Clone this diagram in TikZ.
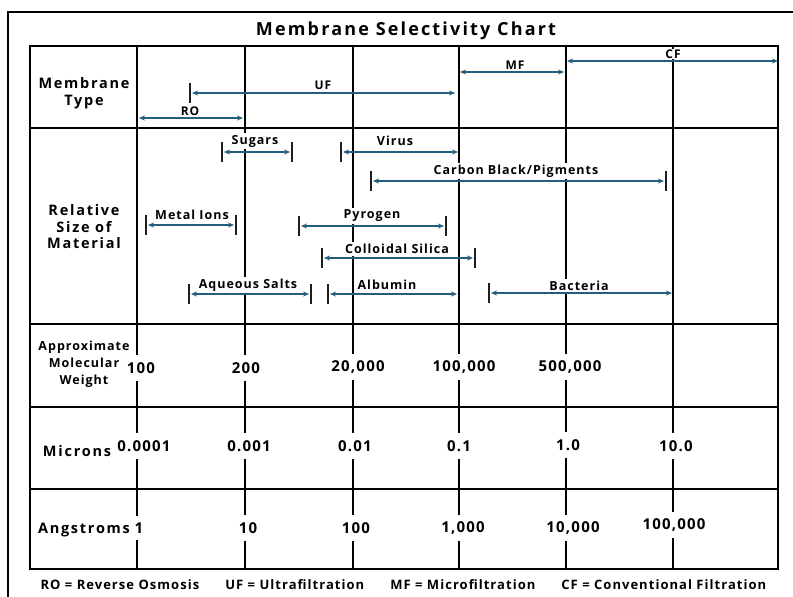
\documentclass[tikz,border=0pt]{standalone}
\usepackage{fontspec}
\setmainfont{Open Sans}
\newfontfamily\chartsp[LetterSpace=8]{Open Sans}
\newfontfamily\chartspw[LetterSpace=12]{Open Sans}
\usetikzlibrary{arrows.meta}
\definecolor{arrowc}{RGB}{35,95,125}
\definecolor{tickc}{RGB}{30,30,30}
\tikzset{
  grid/.style={line width=2.6pt, black},
  rowlab/.style={font=\chartspw\bfseries\fontsize{14.5}{16.5}\selectfont, align=center, inner sep=1pt},
  rng/.style={draw=arrowc, line width=1.6pt, {Stealth[length=6pt,width=5pt]}-{Stealth[length=6pt,width=5pt]}},
  tk/.style={draw=tickc, line width=1.6pt},
  matlab/.style={font=\chartsp\bfseries\fontsize{12.5}{14}\selectfont, fill=white, inner xsep=1pt, inner ysep=2pt},
  numlab/.style={font=\chartsp\bfseries\fontsize{15}{17}\selectfont, fill=white, inner xsep=1.5pt, inner ysep=7pt},
  memlab/.style={font=\chartsp\bfseries\fontsize{12}{13}\selectfont, fill=white, inner sep=1pt},
}
\newcommand\tickrange[3]{% x1, x2, y
  \draw[tk] (#1,#3-10) -- (#1,#3+10);
  \draw[tk] (#2,#3-10) -- (#2,#3+10);
  \draw[rng] (#1+2,#3) -- (#2-2,#3);
}
\begin{document}
\begin{tikzpicture}[x=1pt,y=-1pt]
\useasboundingbox (0,0) rectangle (793,597);
\fill[white] (0,0) rectangle (793,597);
% interior vertical lines
\foreach \x/\n in {137/a,245/b,353/c,459/d,566/e,673/f}{
  \coordinate (top\n) at (\x,46);
  \coordinate (bot\n) at (\x,569);
  \draw[grid] (top\n) -- (bot\n);
}
% title
\node[font=\chartspw\bfseries\fontsize{18}{20}\selectfont] (title) at (406,31) {Membrane Selectivity Chart};
% row labels
\node[rowlab] (lmem) at (84,93) {Membrane\\Type};
\node[rowlab] (lrel) at (84,227) {Relative\\Size of\\Material};
\node[rowlab, font=\chartsp\bfseries\fontsize{12.5}{17}\selectfont] (lmw) at (84,364) {Approximate\\Molecular\\Weight};
\node[rowlab] (lmic) at (77,451) {Microns};
\node[rowlab] (lang) at (84,530) {Angstroms};
% membrane labels
\node[memlab] (tuf) at (323,85) {UF};
\node[memlab] (tro) at (190,111) {RO};
\node[memlab] (tmf) at (515,65) {MF};
\node[memlab] (tcf) at (673,54) {CF};
% material labels
\node[matlab] (tsug) at (255,141) {Sugars};
\node[matlab] (tvir) at (395,141) {Virus};
\node[matlab] (tcb) at (516,171) {Carbon Black/Pigments};
\node[matlab] (tmet) at (192,215) {Metal Ions};
\node[matlab] (tpyr) at (372,216) {Pyrogen};
\node[matlab] (tcol) at (397,249) {Colloidal Silica};
\node[matlab] (taq) at (248,285) {Aqueous Salts};
\node[matlab] (talb) at (387,285) {Albumin};
\node[matlab] (tbac) at (579,286) {Bacteria};
% numbers
\node[numlab] (m1) at (141,368) {100};
\node[numlab] (m2) at (246,368) {200};
\node[numlab] (m3) at (358,367) {20,000};
\node[numlab] (m4) at (464,367) {100,000};
\node[numlab] (m5) at (570,367) {500,000};
\node[numlab] (u1) at (144,446) {0.0001};
\node[numlab] (u2) at (249,446) {0.001};
\node[numlab] (u3) at (355,446) {0.01};
\node[numlab] (u4) at (459,446) {0.1};
\node[numlab] (u5) at (568,445) {1.0};
\node[numlab] (u6) at (676,446) {10.0};
\node[numlab] (a1) at (139,528) {1};
\node[numlab] (a2) at (248,528) {10};
\node[numlab] (a3) at (356,528) {100};
\node[numlab] (a4) at (463,528) {1,000};
\node[numlab] (a5) at (573,528) {10,000};
\node[numlab] (a6) at (674,525) {100,000};
% horizontal lines and table border
\foreach \y in {128,324,407,489}{ \draw[grid] (30,\y) -- (778,\y); }
\draw[grid] (30,46) rectangle (778,569);
% outer frame
\draw[line width=1.6pt] (8,610) -- (8,12) -- (810,12);
% footer
\node[font=\chartsp\bfseries\fontsize{13}{15}\selectfont, anchor=west] (foot) at (37,585) {RO = Reverse Osmosis\hspace{26pt}UF = Ultrafiltration\hspace{26pt}MF = Microfiltration\hspace{26pt}CF = Conventional Filtration};
% membrane arrows
\draw[tk] (190,83) -- (190,103);
\draw[rng] (192,93) -- (455,93);
\draw[rng] (139,118) -- (243,118);
\draw[rng] (460,72) -- (564,72);
\draw[rng] (567,61) -- (778,61);
% material arrows
\tickrange{222}{292}{152}
\draw[tk] (341,142) -- (341,162);
\draw[rng] (343,152) -- (458,152);
\tickrange{371}{666}{181}
\tickrange{146}{236}{225}
\tickrange{299}{446}{226}
\tickrange{322}{475}{258}
\tickrange{189}{311}{294}
\draw[tk] (328,284) -- (328,304);
\draw[rng] (330,294) -- (457,294);
\draw[tk] (489,283) -- (489,303);
\draw[rng] (491,293) -- (672,293);
\end{tikzpicture}
\end{document}
